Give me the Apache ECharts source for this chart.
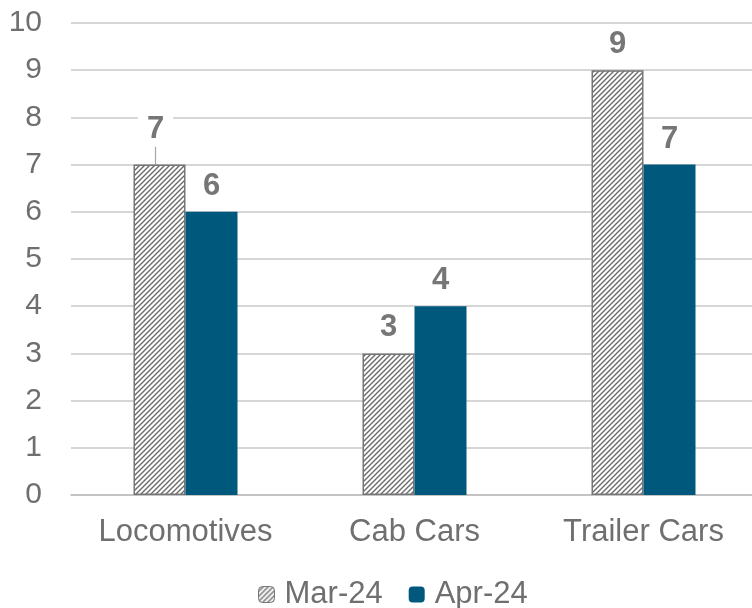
<!DOCTYPE html>
<html><head><meta charset="utf-8">
<script src="https://cdn.jsdelivr.net/npm/echarts@6/dist/echarts.min.js"></script>
<style>html,body{margin:0;padding:0;background:#fff}#c{width:752px;height:608px}</style>
</head><body><div id="c"></div>
<script>
const categories = ['Locomotives', 'Cab Cars', 'Trailer Cars'];
const seriesNames = ['Mar-24', 'Apr-24'];
const mar24 = [7, 3, 9];
const apr24 = [6, 4, 7];
const yTicks = [0, 1, 2, 3, 4, 5, 6, 7, 8, 9, 10];

function hatch() {
  const c = document.createElement('canvas');
  c.width = 5; c.height = 5;
  const g = c.getContext('2d');
  g.fillStyle = '#fff'; g.fillRect(0, 0, 5, 5);
  g.strokeStyle = '#6a6a6a'; g.lineWidth = 1.4;
  g.beginPath();
  g.moveTo(-1, 6); g.lineTo(6, -1);
  g.moveTo(-4, 4); g.lineTo(4, -4);
  g.moveTo(1, 9); g.lineTo(9, 1);
  g.stroke();
  return c;
}
const pat = { image: hatch(), repeat: 'repeat' };
const txt = '#6f6f6f';
const font = 'Liberation Sans, Arial, sans-serif';
const labelCfg = {
  show: true, position: 'top', distance: 8,
  color: '#767676', fontSize: 31, fontWeight: 'bold', fontFamily: font,
  backgroundColor: '#fff', padding: [2, 9]
};
const chart = echarts.init(document.getElementById('c'));
chart.setOption({
  animation: false,
  grid: { left: 71, width: 687, top: 23, bottom: 113, containLabel: false, outerBoundsMode: 'none' },
  legend: {
    bottom: -7, left: 253, itemWidth: 16, itemHeight: 16, itemGap: 26,
    textStyle: { color: txt, fontSize: 31, fontFamily: font, padding: [0, 0, 0, 5] },
    data: [
      { name: seriesNames[0], itemStyle: { color: pat, borderColor: '#767676', borderWidth: 1 } },
      { name: seriesNames[1] }
    ]
  },
  xAxis: {
    type: 'category', data: categories,
    axisLine: { lineStyle: { color: '#bfbfbf', width: 1.5 } },
    axisTick: { show: false },
    axisLabel: { color: txt, fontSize: 31, fontFamily: font, margin: 22 }
  },
  yAxis: {
    type: 'value', min: yTicks[0], max: yTicks[yTicks.length - 1], interval: 1,
    axisLine: { show: false }, axisTick: { show: false },
    splitLine: { lineStyle: { color: '#c8c8c8', width: 1.5 } },
    axisLabel: { color: txt, fontSize: 30, fontFamily: font, margin: 29 }
  },
  series: [
    {
      name: seriesNames[0], type: 'bar', barWidth: 52, barGap: '0%',
      data: mar24.map((v, i) => i === 0 ? { value: v, labelLine: { show: true } } : v),
      itemStyle: { color: pat, borderColor: '#767676', borderWidth: 1.5 },
      label: labelCfg,
      labelLayout: function (p) { return p.dataIndex === 0 ? { dy: -10, dx: -4 } : {}; },
      labelLine: { show: false, lineStyle: { color: '#a6a6a6', width: 1.2 } }
    },
    {
      name: seriesNames[1], type: 'bar', data: apr24, barWidth: 52,
      itemStyle: { color: '#00587c' },
      label: labelCfg
    }
  ]
});
</script></body></html>
